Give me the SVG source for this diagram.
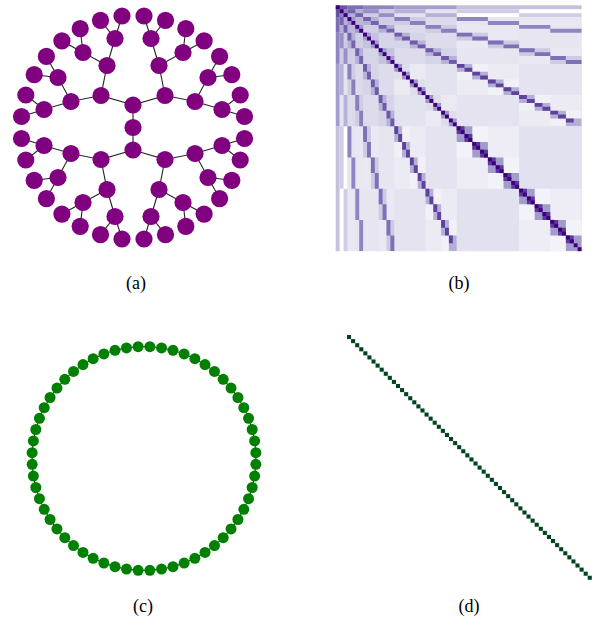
<svg xmlns="http://www.w3.org/2000/svg" width="606" height="626" viewBox="0 0 606 626">
<style>
.lbl{font-family:"Liberation Serif","Times New Roman",Times,serif;font-size:18px;fill:#000;text-anchor:middle}
.tn{fill:#800080}
.cn{fill:#008000}
.edge{stroke:#222;stroke-width:1.1;fill:none}
.cedge{stroke:#111;stroke-width:1;fill:none}
</style>
<defs>
<path id="u1" d="M0,0h1v1h-1z"/>
<g id="u2"><use href="#u1"/><use href="#u1" x="1" y="1"/></g>
<g id="u4"><use href="#u2"/><use href="#u2" x="2" y="2"/></g>
<g id="u8"><use href="#u4"/><use href="#u4" x="4" y="4"/></g>
<g id="u16"><use href="#u8"/><use href="#u8" x="8" y="8"/></g>
<g id="u32"><use href="#u16"/><use href="#u16" x="16" y="16"/></g>
</defs>
<rect width="606" height="626" fill="#fff"/>

<!-- (a) binary tree -->
<g id="tree-a" transform="translate(133,127.5)">
<g id="tree-connectors" class="edge">
<path d="M0,-22.5V22.5
M0,-22.5L-32,-32L-26,-62L-18,-89L-11,-111.5M-18,-89L-32.5,-107.2M-26,-62L-50,-75L-52.8,-98.8M-50,-75L-71.1,-86.6M-32,-32L-62,-26L-75,-50L-86.6,-71.1M-75,-50L-98.8,-52.8M-62,-26L-89,-18L-107.2,-32.5M-89,-18L-111.5,-11
M0,-22.5L32,-32L26,-62L18,-89L11,-111.5M18,-89L32.5,-107.2M26,-62L50,-75L52.8,-98.8M50,-75L71.1,-86.6M32,-32L62,-26L75,-50L86.6,-71.1M75,-50L98.8,-52.8M62,-26L89,-18L107.2,-32.5M89,-18L111.5,-11
M0,22.5L-32,32L-26,62L-18,89L-11,111.5M-18,89L-32.5,107.2M-26,62L-50,75L-52.8,98.8M-50,75L-71.1,86.6M-32,32L-62,26L-75,50L-86.6,71.1M-75,50L-98.8,52.8M-62,26L-89,18L-107.2,32.5M-89,18L-111.5,11
M0,22.5L32,32L26,62L18,89L11,111.5M18,89L32.5,107.2M26,62L50,75L52.8,98.8M50,75L71.1,86.6M32,32L62,26L75,50L86.6,71.1M75,50L98.8,52.8M62,26L89,18L107.2,32.5M89,18L111.5,11"/>
</g>
<g id="tree-nodes" class="tn">
<g id="a-root"><circle cx="0" cy="0" r="8.6"/></g>
<g id="a-n1"><circle cx="0" cy="-22.5" r="8.6"/></g>
<g id="a-n2"><circle cx="0" cy="22.5" r="8.6"/></g>
<g id="a-tl-d2"><circle cx="-32" cy="-32" r="8.6"/></g>
<g id="a-tl-d3a"><circle cx="-26" cy="-62" r="8.6"/></g>
<g id="a-tl-d3b"><circle cx="-62" cy="-26" r="8.6"/></g>
<g id="a-tl-d4a"><circle cx="-18" cy="-89" r="8.6"/></g>
<g id="a-tl-d4b"><circle cx="-50" cy="-75" r="8.6"/></g>
<g id="a-tl-d4c"><circle cx="-75" cy="-50" r="8.6"/></g>
<g id="a-tl-d4d"><circle cx="-89" cy="-18" r="8.6"/></g>
<g id="a-tl-l1"><circle cx="-11" cy="-111.5" r="8.6"/></g>
<g id="a-tl-l2"><circle cx="-32.5" cy="-107.2" r="8.6"/></g>
<g id="a-tl-l3"><circle cx="-52.8" cy="-98.8" r="8.6"/></g>
<g id="a-tl-l4"><circle cx="-71.1" cy="-86.6" r="8.6"/></g>
<g id="a-tl-l5"><circle cx="-86.6" cy="-71.1" r="8.6"/></g>
<g id="a-tl-l6"><circle cx="-98.8" cy="-52.8" r="8.6"/></g>
<g id="a-tl-l7"><circle cx="-107.2" cy="-32.5" r="8.6"/></g>
<g id="a-tl-l8"><circle cx="-111.5" cy="-11" r="8.6"/></g>
<g id="a-tr-d2"><circle cx="32" cy="-32" r="8.6"/></g>
<g id="a-tr-d3a"><circle cx="26" cy="-62" r="8.6"/></g>
<g id="a-tr-d3b"><circle cx="62" cy="-26" r="8.6"/></g>
<g id="a-tr-d4a"><circle cx="18" cy="-89" r="8.6"/></g>
<g id="a-tr-d4b"><circle cx="50" cy="-75" r="8.6"/></g>
<g id="a-tr-d4c"><circle cx="75" cy="-50" r="8.6"/></g>
<g id="a-tr-d4d"><circle cx="89" cy="-18" r="8.6"/></g>
<g id="a-tr-l1"><circle cx="11" cy="-111.5" r="8.6"/></g>
<g id="a-tr-l2"><circle cx="32.5" cy="-107.2" r="8.6"/></g>
<g id="a-tr-l3"><circle cx="52.8" cy="-98.8" r="8.6"/></g>
<g id="a-tr-l4"><circle cx="71.1" cy="-86.6" r="8.6"/></g>
<g id="a-tr-l5"><circle cx="86.6" cy="-71.1" r="8.6"/></g>
<g id="a-tr-l6"><circle cx="98.8" cy="-52.8" r="8.6"/></g>
<g id="a-tr-l7"><circle cx="107.2" cy="-32.5" r="8.6"/></g>
<g id="a-tr-l8"><circle cx="111.5" cy="-11" r="8.6"/></g>
<g id="a-bl-d2"><circle cx="-32" cy="32" r="8.6"/></g>
<g id="a-bl-d3a"><circle cx="-26" cy="62" r="8.6"/></g>
<g id="a-bl-d3b"><circle cx="-62" cy="26" r="8.6"/></g>
<g id="a-bl-d4a"><circle cx="-18" cy="89" r="8.6"/></g>
<g id="a-bl-d4b"><circle cx="-50" cy="75" r="8.6"/></g>
<g id="a-bl-d4c"><circle cx="-75" cy="50" r="8.6"/></g>
<g id="a-bl-d4d"><circle cx="-89" cy="18" r="8.6"/></g>
<g id="a-bl-l1"><circle cx="-11" cy="111.5" r="8.6"/></g>
<g id="a-bl-l2"><circle cx="-32.5" cy="107.2" r="8.6"/></g>
<g id="a-bl-l3"><circle cx="-52.8" cy="98.8" r="8.6"/></g>
<g id="a-bl-l4"><circle cx="-71.1" cy="86.6" r="8.6"/></g>
<g id="a-bl-l5"><circle cx="-86.6" cy="71.1" r="8.6"/></g>
<g id="a-bl-l6"><circle cx="-98.8" cy="52.8" r="8.6"/></g>
<g id="a-bl-l7"><circle cx="-107.2" cy="32.5" r="8.6"/></g>
<g id="a-bl-l8"><circle cx="-111.5" cy="11" r="8.6"/></g>
<g id="a-br-d2"><circle cx="32" cy="32" r="8.6"/></g>
<g id="a-br-d3a"><circle cx="26" cy="62" r="8.6"/></g>
<g id="a-br-d3b"><circle cx="62" cy="26" r="8.6"/></g>
<g id="a-br-d4a"><circle cx="18" cy="89" r="8.6"/></g>
<g id="a-br-d4b"><circle cx="50" cy="75" r="8.6"/></g>
<g id="a-br-d4c"><circle cx="75" cy="50" r="8.6"/></g>
<g id="a-br-d4d"><circle cx="89" cy="18" r="8.6"/></g>
<g id="a-br-l1"><circle cx="11" cy="111.5" r="8.6"/></g>
<g id="a-br-l2"><circle cx="32.5" cy="107.2" r="8.6"/></g>
<g id="a-br-l3"><circle cx="52.8" cy="98.8" r="8.6"/></g>
<g id="a-br-l4"><circle cx="71.1" cy="86.6" r="8.6"/></g>
<g id="a-br-l5"><circle cx="86.6" cy="71.1" r="8.6"/></g>
<g id="a-br-l6"><circle cx="98.8" cy="52.8" r="8.6"/></g>
<g id="a-br-l7"><circle cx="107.2" cy="32.5" r="8.6"/></g>
<g id="a-br-l8"><circle cx="111.5" cy="11" r="8.6"/></g>
</g>
</g>

<!-- (b) matrix of the tree -->
<g id="matrix-b" transform="translate(335.8,5.4) scale(3.9)">
<rect x="0" y="0" width="63" height="63" fill="#e3e2ef"/>
<g id="Ub">
<rect x="1" y="0" width="2" height="1" fill="#6a51a3"/>
<rect x="3" y="0" width="4" height="1" fill="#7d6db5"/>
<rect x="7" y="0" width="8" height="1" fill="#8f86c1"/>
<rect x="15" y="0" width="16" height="1" fill="#a39ecd"/>
<rect x="31" y="0" width="32" height="1" fill="#c4c1de"/>
<rect x="1" y="1" width="2" height="2" fill="#8f86c1"/>
<rect x="3" y="1" width="4" height="2" fill="#b3afd6"/>
<rect x="7" y="1" width="8" height="2" fill="#cfcce4"/>
<rect x="15" y="1" width="16" height="2" fill="#e4e3ef"/>
<rect x="31" y="1" width="32" height="2" fill="#ffffff"/>
<rect x="3" y="3" width="4" height="4" fill="#bcb8da"/>
<rect x="7" y="3" width="8" height="4" fill="#d0cde4"/>
<rect x="15" y="3" width="16" height="4" fill="#dcdaeb"/>
<rect x="31" y="3" width="32" height="4" fill="#e9e8f2"/>
<rect x="7" y="7" width="8" height="8" fill="#d6d4e8"/>
<rect x="15" y="7" width="16" height="8" fill="#dedcec"/>
<rect x="31" y="7" width="32" height="8" fill="#e6e5f0"/>
<rect x="15" y="15" width="16" height="16" fill="#e3e2ef"/>
<rect x="31" y="15" width="32" height="16" fill="#e4e3ef"/>
<rect x="31" y="31" width="32" height="32" fill="#e2e1ef"/>
<path fill="#7464ae" d="M3,1h2v1h-2zm2,1h2v1h-2zm2,1"/>
<path fill="#9890c5" d="M7,1h4v1h-4zm4,1h4v1h-4zm4,1"/>
<path fill="#b5b1d7" d="M15,1h8v1h-8zm8,1h8v1h-8zm8,1"/>
<path fill="#d0cde5" d="M31,1h16v1h-16zm16,1h16v1h-16zm16,1"/>
<path fill="#9d97c8" d="M3,3h2v2h-2zm2,2h2v2h-2zm2,2"/>
<path fill="#b3afd6" d="M7,3h4v2h-4zm4,2h4v2h-4zm4,2"/>
<path fill="#cfcce4" d="M15,3h8v2h-8zm8,2h8v2h-8zm8,2"/>
<path fill="#e6e5f0" d="M31,3h16v2h-16zm16,2h16v2h-16zm16,2"/>
<path fill="#c5c2df" d="M7,7h4v4h-4zm4,4h4v4h-4zm4,4"/>
<path fill="#d6d4e8" d="M15,7h8v4h-8zm8,4h8v4h-8zm8,4"/>
<path fill="#eae9f3" d="M31,7h16v4h-16zm16,4h16v4h-16zm16,4"/>
<path fill="#ebeaf3" d="M15,15h8v8h-8zm8,8h8v8h-8zm8,8"/>
<path fill="#ecebf4" d="M31,15h16v8h-16zm16,8h16v8h-16zm16,8"/>
<path fill="#eeedf5" d="M31,31h16v16h-16zm16,16h16v16h-16zm16,16"/>
<path fill="#7464ae" d="M7,3h2v1h-2zm2,1h2v1h-2zm2,1h2v1h-2zm2,1h2v1h-2zm2,1"/>
<path fill="#8a80be" d="M15,3h4v1h-4zm4,1h4v1h-4zm4,1h4v1h-4zm4,1h4v1h-4zm4,1"/>
<path fill="#8f86c1" d="M31,3h8v1h-8zm8,1h8v1h-8zm8,1h8v1h-8zm8,1h8v1h-8zm8,1"/>
<path fill="#a29dcc" d="M7,7h2v2h-2zm2,2h2v2h-2zm2,2h2v2h-2zm2,2h2v2h-2zm2,2"/>
<path fill="#b7b3d8" d="M15,7h4v2h-4zm4,2h4v2h-4zm4,2h4v2h-4zm4,2h4v2h-4zm4,2"/>
<path fill="#cdcae3" d="M31,7h8v2h-8zm8,2h8v2h-8zm8,2h8v2h-8zm8,2h8v2h-8zm8,2"/>
<path fill="#e0deed" d="M15,15h4v4h-4zm4,4h4v4h-4zm4,4h4v4h-4zm4,4h4v4h-4zm4,4"/>
<path fill="#f1f0f7" d="M31,15h8v4h-8zm8,4h8v4h-8zm8,4h8v4h-8zm8,4h8v4h-8zm8,4"/>
<path fill="#f3f2f8" d="M31,31h8v8h-8zm8,8h8v8h-8zm8,8h8v8h-8zm8,8h8v8h-8zm8,8"/>
<path fill="#6e5aa9" d="M15,7h2v1h-2zm2,1h2v1h-2zm2,1h2v1h-2zm2,1h2v1h-2zm2,1h2v1h-2zm2,1h2v1h-2zm2,1h2v1h-2zm2,1h2v1h-2zm2,1"/>
<path fill="#7e6fb6" d="M31,7h4v1h-4zm4,1h4v1h-4zm4,1h4v1h-4zm4,1h4v1h-4zm4,1h4v1h-4zm4,1h4v1h-4zm4,1h4v1h-4zm4,1h4v1h-4zm4,1"/>
<path fill="#9d97c8" d="M15,15h2v2h-2zm2,2h2v2h-2zm2,2h2v2h-2zm2,2h2v2h-2zm2,2h2v2h-2zm2,2h2v2h-2zm2,2h2v2h-2zm2,2h2v2h-2zm2,2"/>
<path fill="#b3afd6" d="M31,15h4v2h-4zm4,2h4v2h-4zm4,2h4v2h-4zm4,2h4v2h-4zm4,2h4v2h-4zm4,2h4v2h-4zm4,2h4v2h-4zm4,2h4v2h-4zm4,2"/>
<path fill="#a29ccc" d="M31,31h4v4h-4zm4,4h4v4h-4zm4,4h4v4h-4zm4,4h4v4h-4zm4,4h4v4h-4zm4,4h4v4h-4zm4,4h4v4h-4zm4,4h4v4h-4zm4,4"/>
<path fill="#5f429e" d="M31,15h2v1h-2zm2,1h2v1h-2zm2,1h2v1h-2zm2,1h2v1h-2zm2,1h2v1h-2zm2,1h2v1h-2zm2,1h2v1h-2zm2,1h2v1h-2zm2,1h2v1h-2zm2,1h2v1h-2zm2,1h2v1h-2zm2,1h2v1h-2zm2,1h2v1h-2zm2,1h2v1h-2zm2,1h2v1h-2zm2,1"/>
<path fill="#5a3a9b" d="M31,31h2v2h-2zm2,2h2v2h-2zm2,2h2v2h-2zm2,2h2v2h-2zm2,2h2v2h-2zm2,2h2v2h-2zm2,2h2v2h-2zm2,2h2v2h-2zm2,2h2v2h-2zm2,2h2v2h-2zm2,2h2v2h-2zm2,2h2v2h-2zm2,2h2v2h-2zm2,2h2v2h-2zm2,2h2v2h-2zm2,2"/>
<g id="b-diag" fill="#3f007d">
<use href="#u32"/><use href="#u16" x="32" y="32"/><use href="#u8" x="48" y="48"/><use href="#u4" x="56" y="56"/><use href="#u2" x="60" y="60"/><use href="#u1" x="62" y="62"/>
</g>
</g>
<use href="#Ub" transform="matrix(0,1,1,0,0,0)"/>
</g>

<!-- (c) cycle graph -->
<g id="cycle-c" transform="translate(144,458.5)">
<g id="cycle-connectors" class="cedge">
<polygon points="5.86,-111.85 17.52,-110.62 28.99,-108.18 40.14,-104.56 50.85,-99.79 61,-93.93 70.48,-87.04 79.2,-79.2 87.04,-70.48 93.93,-61 99.79,-50.85 104.56,-40.14 108.18,-28.99 110.62,-17.52 111.85,-5.86 111.85,5.86 110.62,17.52 108.18,28.99 104.56,40.14 99.79,50.85 93.93,61 87.04,70.48 79.2,79.2 70.48,87.04 61,93.93 50.85,99.79 40.14,104.56 28.99,108.18 17.52,110.62 5.86,111.85 -5.86,111.85 -17.52,110.62 -28.99,108.18 -40.14,104.56 -50.85,99.79 -61,93.93 -70.48,87.04 -79.2,79.2 -87.04,70.48 -93.93,61 -99.79,50.85 -104.56,40.14 -108.18,28.99 -110.62,17.52 -111.85,5.86 -111.85,-5.86 -110.62,-17.52 -108.18,-28.99 -104.56,-40.14 -99.79,-50.85 -93.93,-61 -87.04,-70.48 -79.2,-79.2 -70.48,-87.04 -61,-93.93 -50.85,-99.79 -40.14,-104.56 -28.99,-108.18 -17.52,-110.62 -5.86,-111.85"/>
</g>
<g id="cycle-nodes" class="cn">
<g id="c-0"><circle cx="5.86" cy="-111.85" r="5.5"/></g>
<g id="c-1"><circle cx="17.52" cy="-110.62" r="5.5"/></g>
<g id="c-2"><circle cx="28.99" cy="-108.18" r="5.5"/></g>
<g id="c-3"><circle cx="40.14" cy="-104.56" r="5.5"/></g>
<g id="c-4"><circle cx="50.85" cy="-99.79" r="5.5"/></g>
<g id="c-5"><circle cx="61" cy="-93.93" r="5.5"/></g>
<g id="c-6"><circle cx="70.48" cy="-87.04" r="5.5"/></g>
<g id="c-7"><circle cx="79.2" cy="-79.2" r="5.5"/></g>
<g id="c-8"><circle cx="87.04" cy="-70.48" r="5.5"/></g>
<g id="c-9"><circle cx="93.93" cy="-61" r="5.5"/></g>
<g id="c-10"><circle cx="99.79" cy="-50.85" r="5.5"/></g>
<g id="c-11"><circle cx="104.56" cy="-40.14" r="5.5"/></g>
<g id="c-12"><circle cx="108.18" cy="-28.99" r="5.5"/></g>
<g id="c-13"><circle cx="110.62" cy="-17.52" r="5.5"/></g>
<g id="c-14"><circle cx="111.85" cy="-5.86" r="5.5"/></g>
<g id="c-15"><circle cx="111.85" cy="5.86" r="5.5"/></g>
<g id="c-16"><circle cx="110.62" cy="17.52" r="5.5"/></g>
<g id="c-17"><circle cx="108.18" cy="28.99" r="5.5"/></g>
<g id="c-18"><circle cx="104.56" cy="40.14" r="5.5"/></g>
<g id="c-19"><circle cx="99.79" cy="50.85" r="5.5"/></g>
<g id="c-20"><circle cx="93.93" cy="61" r="5.5"/></g>
<g id="c-21"><circle cx="87.04" cy="70.48" r="5.5"/></g>
<g id="c-22"><circle cx="79.2" cy="79.2" r="5.5"/></g>
<g id="c-23"><circle cx="70.48" cy="87.04" r="5.5"/></g>
<g id="c-24"><circle cx="61" cy="93.93" r="5.5"/></g>
<g id="c-25"><circle cx="50.85" cy="99.79" r="5.5"/></g>
<g id="c-26"><circle cx="40.14" cy="104.56" r="5.5"/></g>
<g id="c-27"><circle cx="28.99" cy="108.18" r="5.5"/></g>
<g id="c-28"><circle cx="17.52" cy="110.62" r="5.5"/></g>
<g id="c-29"><circle cx="5.86" cy="111.85" r="5.5"/></g>
<g id="c-30"><circle cx="-5.86" cy="111.85" r="5.5"/></g>
<g id="c-31"><circle cx="-17.52" cy="110.62" r="5.5"/></g>
<g id="c-32"><circle cx="-28.99" cy="108.18" r="5.5"/></g>
<g id="c-33"><circle cx="-40.14" cy="104.56" r="5.5"/></g>
<g id="c-34"><circle cx="-50.85" cy="99.79" r="5.5"/></g>
<g id="c-35"><circle cx="-61" cy="93.93" r="5.5"/></g>
<g id="c-36"><circle cx="-70.48" cy="87.04" r="5.5"/></g>
<g id="c-37"><circle cx="-79.2" cy="79.2" r="5.5"/></g>
<g id="c-38"><circle cx="-87.04" cy="70.48" r="5.5"/></g>
<g id="c-39"><circle cx="-93.93" cy="61" r="5.5"/></g>
<g id="c-40"><circle cx="-99.79" cy="50.85" r="5.5"/></g>
<g id="c-41"><circle cx="-104.56" cy="40.14" r="5.5"/></g>
<g id="c-42"><circle cx="-108.18" cy="28.99" r="5.5"/></g>
<g id="c-43"><circle cx="-110.62" cy="17.52" r="5.5"/></g>
<g id="c-44"><circle cx="-111.85" cy="5.86" r="5.5"/></g>
<g id="c-45"><circle cx="-111.85" cy="-5.86" r="5.5"/></g>
<g id="c-46"><circle cx="-110.62" cy="-17.52" r="5.5"/></g>
<g id="c-47"><circle cx="-108.18" cy="-28.99" r="5.5"/></g>
<g id="c-48"><circle cx="-104.56" cy="-40.14" r="5.5"/></g>
<g id="c-49"><circle cx="-99.79" cy="-50.85" r="5.5"/></g>
<g id="c-50"><circle cx="-93.93" cy="-61" r="5.5"/></g>
<g id="c-51"><circle cx="-87.04" cy="-70.48" r="5.5"/></g>
<g id="c-52"><circle cx="-79.2" cy="-79.2" r="5.5"/></g>
<g id="c-53"><circle cx="-70.48" cy="-87.04" r="5.5"/></g>
<g id="c-54"><circle cx="-61" cy="-93.93" r="5.5"/></g>
<g id="c-55"><circle cx="-50.85" cy="-99.79" r="5.5"/></g>
<g id="c-56"><circle cx="-40.14" cy="-104.56" r="5.5"/></g>
<g id="c-57"><circle cx="-28.99" cy="-108.18" r="5.5"/></g>
<g id="c-58"><circle cx="-17.52" cy="-110.62" r="5.5"/></g>
<g id="c-59"><circle cx="-5.86" cy="-111.85" r="5.5"/></g>
</g>
</g>

<!-- (d) matrix of the cycle -->
<g id="matrix-d" transform="translate(347,335) scale(4.08)" fill="#00441b">
<use href="#u32"/><use href="#u16" x="32" y="32"/><use href="#u8" x="48" y="48"/><use href="#u4" x="56" y="56"/>
</g>

<g id="labels" class="lbl">
<text x="136" y="289" font-family="Liberation Serif, Times New Roman, Times, serif">(a)</text>
<text x="459" y="289" font-family="Liberation Serif, Times New Roman, Times, serif">(b)</text>
<text x="143" y="612" font-family="Liberation Serif, Times New Roman, Times, serif">(c)</text>
<text x="469" y="612" font-family="Liberation Serif, Times New Roman, Times, serif">(d)</text>
</g>
</svg>
